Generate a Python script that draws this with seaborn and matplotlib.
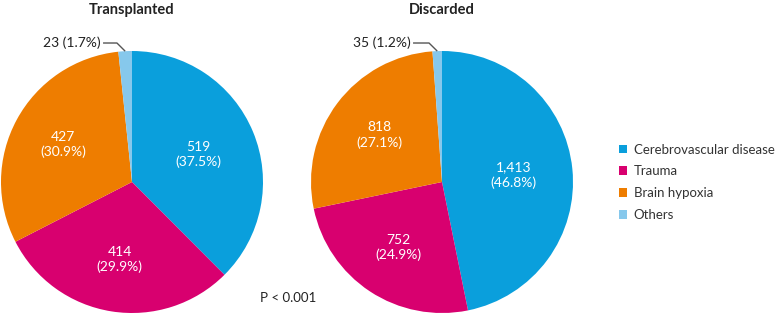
import math
import matplotlib
matplotlib.use("Agg")
import matplotlib.pyplot as plt
import seaborn as sns
from matplotlib.patches import Patch

sns.set_theme(style="white")
plt.rcParams['font.family'] = ['Lato', 'DejaVu Sans']

categories = ["Cerebrovascular disease", "Trauma", "Brain hypoxia", "Others"]
transplanted = [519, 414, 427, 23]
transplanted_pct = [37.5, 29.9, 30.9, 1.7]
discarded = [1413, 752, 818, 35]
discarded_pct = [46.8, 24.9, 27.1, 1.2]
titles = ["Transplanted", "Discarded"]
p_text = "P < 0.001"

colors = ["#0a9fdc", "#d8006f", "#ee7d00", "#86c8ec"]

W, H = 778, 315
fig = plt.figure(figsize=(W / 100, H / 100), dpi=100)

def px_axes(cx, cy, r):
    return fig.add_axes([(cx - r) / W, (H - cy - r) / H, 2 * r / W, 2 * r / H])

def draw(ax, vals, pcts, title, elbow_x, start_x):
    wedges, _ = ax.pie(vals, colors=colors, startangle=90, counterclock=False,
                       wedgeprops=dict(linewidth=0))
    ax.set_xlim(-1, 1); ax.set_ylim(-1, 1)
    ax.set_aspect("equal")
    ax.axis("off")
    total = sum(vals)
    cum = 0
    dists = [0.55, 0.6, 0.6]
    for i in range(3):
        mid = (cum + vals[i] / 2) / total
        cum += vals[i]
        ang = math.radians(90 - 360 * mid)
        d = dists[i]
        ax.text(d * math.cos(ang), d * math.sin(ang), f"{vals[i]:,}\n({pcts[i]}%)",
                ha="center", va="center", color="white", fontsize=10, linespacing=1.3)
    # others wedge leader line
    mid = (total - vals[3] / 2) / total
    ang = math.radians(90 - 360 * mid)
    x0, y0 = math.cos(ang), math.sin(ang)
    ly = 1.061
    ax.plot([start_x, elbow_x, x0], [ly, ly, y0], color="#555555", lw=1,
            clip_on=False, solid_capstyle="butt")
    ax.text(start_x - 0.02, ly, f"{vals[3]} ({pcts[3]}%)", ha="right", va="center",
            fontsize=10, color="#222222")
    ax.text(0, 1.31, title, ha="center", va="center", fontsize=10.5,
            fontweight="bold", color="#222222")

ax1 = px_axes(132, 182, 131)
draw(ax1, transplanted, transplanted_pct, titles[0], -0.115, -0.221)
ax2 = px_axes(442, 182, 131)
draw(ax2, discarded, discarded_pct, titles[1], -0.099, -0.221)

fig.text(288 / W, 1 - 298 / H, p_text, ha="center", va="center", fontsize=9.5, color="#222222")

handles = [Patch(facecolor=c, edgecolor="none") for c in colors]
fig.legend(handles, categories, loc="upper left", bbox_to_anchor=(608 / W, 1 - 133 / H),
           frameon=False, fontsize=9.5, handlelength=0.65, handleheight=0.65,
           handletextpad=0.5, labelspacing=0.75, labelcolor="#333333",
           borderpad=0.3)

fig.savefig("out.png", dpi=100)
